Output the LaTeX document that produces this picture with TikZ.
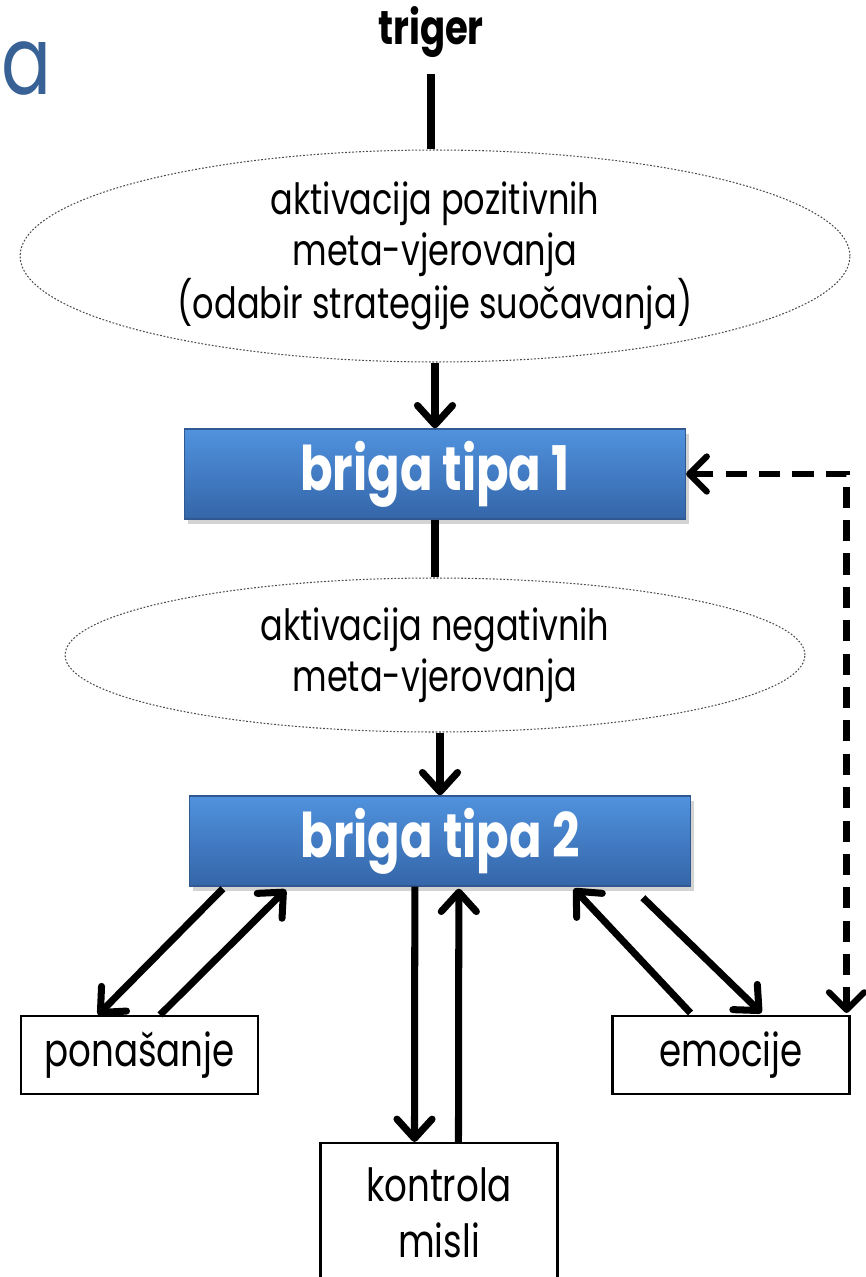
\documentclass[tikz,border=0pt]{standalone}
\usepackage{fontspec}
\setmainfont{Poppins}[FakeStretch=0.78]
\usepackage{tikz}
\usetikzlibrary{arrows.meta,shapes,shadows,calc}

\begin{document}
\begin{tikzpicture}[x=0.02cm,y=-0.02cm]

		\definecolor{letterblue}{RGB}{56,98,150}
		\definecolor{boxtop}{RGB}{80,146,222}
		\definecolor{boxbottom}{RGB}{52,101,168}
		\definecolor{boxedge}{RGB}{48,88,145}

		\useasboundingbox (0,0) rectangle (865,1277);

		\tikzstyle{edge} = [draw,-,line width=4pt]
		\tikzstyle{arrowedge} = [draw,-{Straight Barb[length=11pt,width=20pt,round]},line width=4pt]
		\tikzstyle{backedge} = [draw,{Straight Barb[length=10pt,width=20pt,round]}-{Straight Barb[length=10pt,width=20pt,round]},line width=3.5pt,dash pattern=on 12pt off 7pt]

		\node[anchor=base west, inner sep=0pt, text=letterblue, font=\fontsize{54}{54}\selectfont] (mark) at (1,95) {a};
		\node[anchor=base, inner sep=0pt, font=\bfseries\fontsize{27}{27}\selectfont] (trig) at (431,45) {triger};

		\tikzset{vertex/.style = {shape=ellipse, draw=black!70, line width=0.6pt, dash pattern=on 1pt off 1pt, align=center, inner sep=0pt, font=\fontsize{24.5}{29}\selectfont}}
		\node[vertex, minimum width=16.6cm, minimum height=4.24cm] (pos) at (435,256) {aktivacija pozitivnih\\meta-vjerovanja\\(odabir strategije suočavanja)};
		\node[vertex, minimum width=14.8cm, minimum height=3.08cm] (neg) at (435,655) {aktivacija negativnih\\meta-vjerovanja};

		\tikzset{vertex/.style = {shape=rectangle, top color=boxtop, bottom color=boxbottom, draw=boxedge, line width=0.8pt, minimum width=10.02cm, minimum height=1.8cm, text=white, font=\bfseries\fontsize{35}{35}\selectfont, drop shadow={opacity=0.35, shadow xshift=2pt, shadow yshift=-3pt}}}
		\node[vertex] (b1) at (435,474) {briga tipa 1};
		\node[vertex] (b2) at (440,841) {briga tipa 2};

		\tikzset{vertex/.style = {shape=rectangle, draw, line width=1.2pt, minimum width=4.74cm, minimum height=1.56cm, align=center, font=\fontsize{26}{32}\selectfont}}
		\node[vertex] (pon) at (139.5,1055) {ponašanje};
		\node[vertex] (emo) at (731,1055) {emocije};
		\node[vertex, minimum height=2.8cm] (kon) at (439,1213) {kontrola\\misli};

		\draw[edge, shorten <=9pt] (trig.south) to (trig.south |- pos.north);
		\draw[arrowedge] (pos.south) to (b1.north);
		\draw[edge] (b1.south) to (neg.north);
		\draw[arrowedge] (neg.south -| b2.north) to (b2.north);

		\draw[arrowedge] ($(b2.south west)+(34,2)$) to ($(pon.north west)+(78,0)$);
		\draw[arrowedge] ($(pon.north west)+(140,0)$) to ($(b2.south west)+(97,3)$);
		\draw[arrowedge] ($(b2.south west)+(226,0)$) to ($(kon.north west)+(95,0)$);
		\draw[arrowedge] ($(kon.north west)+(139,0)$) to ($(b2.south west)+(270,2)$);
		\draw[arrowedge] ($(emo.north west)+(79,-2)$) to ($(b2.south west)+(385,2)$);
		\draw[arrowedge] ($(b2.south west)+(454,11)$) to ($(emo.north west)+(150,-2)$);
		\draw[backedge] (b1.east) -| ($(emo.north east)+(-4,-2)$);
		\end{tikzpicture}
\end{document}
